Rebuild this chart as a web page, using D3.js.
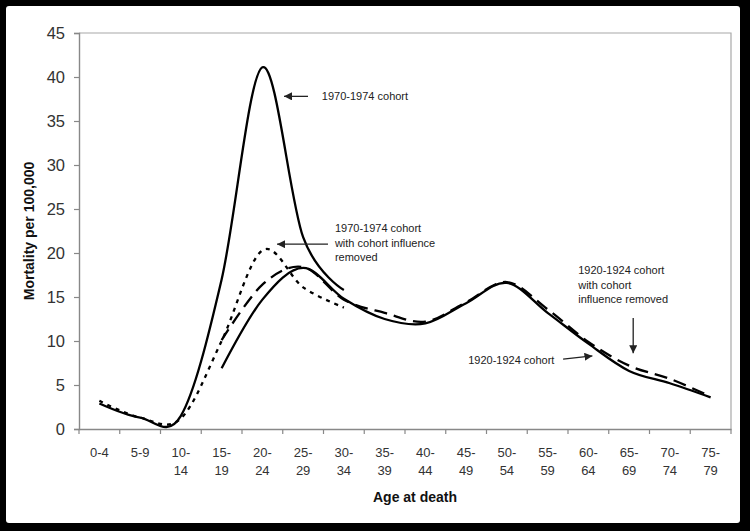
<!DOCTYPE html>
<html>
<head>
<meta charset="utf-8">
<script src="https://cdn.jsdelivr.net/npm/d3@7"></script>
<style>
  body { margin: 0; background: #000; }
  svg { display: block; font-family: "Liberation Sans", Arial, sans-serif; }
</style>
</head>
<body>
<div id="chart"></div>
<script>
/* ── data ─────────────────────────────────────────────── */

const ageGroups = ['0-4','5-9','10-14','15-19','20-24','25-29','30-34','35-39',
                   '40-44','45-49','50-54','55-59','60-64','65-69','70-74','75-79'];

const yTicks = [0, 5, 10, 15, 20, 25, 30, 35, 40, 45];

// null = not observed for that cohort
const cohort1970         = [2.9, 1.3, 1.5, 17.0, 41.1, 21.8, 15.8, null, null, null, null, null, null, null, null, null];
const cohort1970Removed  = [3.2, 1.3, 1.2, 10.0, 20.3, 16.1, 13.8, null, null, null, null, null, null, null, null, null];
const cohort1920         = [null, null, null, 6.9, 14.7, 18.3, 14.8, 12.5, 12.0, 14.3, 16.6, 13.2, 9.7, 6.6, 5.2, 3.6];
const cohort1920Removed  = [null, null, null, 10.1, 16.4, 18.4, 14.7, 13.2, 12.2, 14.4, 16.7, 13.6, 9.9, 7.2, 5.7, 3.7];

/* ── layout ───────────────────────────────────────────── */

const W = 750, H = 531;
const plot = { left: 79, right: 731, top: 33, bottom: 429 };

const svg = d3.select('#chart').append('svg')
  .attr('width', W).attr('height', H);

// black frame around a white card
svg.append('rect').attr('width', W).attr('height', H).attr('fill', '#000');
svg.append('rect')
  .attr('x', 6).attr('y', 6).attr('width', 734).attr('height', 517)
  .attr('rx', 3).attr('fill', '#fff');

const x = d3.scaleBand().domain(ageGroups).range([plot.left, plot.right]).paddingInner(0);
// continuous index scale (category i centred at i + 0.5), used for annotations
const xi = d3.scaleLinear().domain([0, ageGroups.length]).range([plot.left, plot.right]);
const y = d3.scaleLinear().domain([0, 45]).range([plot.bottom, plot.top]);

/* ── plot frame & axes ────────────────────────────────── */

svg.append('path')
  .attr('d', `M${plot.left},${plot.top}H${plot.right}V${plot.bottom}`)
  .attr('fill', 'none').attr('stroke', '#a8a8a8').attr('stroke-width', 1.2);

const yAxis = svg.append('g')
  .attr('transform', `translate(${plot.left},0)`)
  .call(d3.axisLeft(y).tickValues(yTicks).tickSize(5).tickPadding(9));
yAxis.select('.domain').attr('stroke', '#888').attr('stroke-width', 1.4);
yAxis.selectAll('.tick line').attr('stroke', '#888').attr('stroke-width', 1.2);
yAxis.selectAll('.tick text')
  .attr('font-size', 16.5).attr('fill', '#333')
  .attr('font-family', '"Liberation Sans", Arial, sans-serif');

const xAxis = svg.append('g')
  .attr('transform', `translate(0,${plot.bottom})`)
  .call(d3.axisBottom(x).tickSize(0).tickPadding(0).tickFormat(''));
xAxis.select('.domain').attr('stroke', '#888').attr('stroke-width', 1.4);

// tick marks sit on the category boundaries
xAxis.selectAll('line.boundary')
  .data(d3.range(ageGroups.length + 1))
  .join('line')
  .attr('class', 'boundary')
  .attr('x1', d => xi(d)).attr('x2', d => xi(d))
  .attr('y1', 0).attr('y2', 5)
  .attr('stroke', '#888').attr('stroke-width', 1.2);

// labels wrap after the hyphen ("10-" / "14")
xAxis.selectAll('.tick text').remove();
xAxis.selectAll('.tick').each(function(d) {
  const t = d3.select(this).append('text')
    .attr('text-anchor', 'middle')
    .attr('font-size', 13).attr('fill', '#333')
    .attr('font-family', '"Liberation Sans", Arial, sans-serif');
  const cut = d.indexOf('-') + 1;
  const parts = d.length > 3 ? [d.slice(0, cut), d.slice(cut)] : [d];
  parts.forEach((p, i) => {
    t.append('tspan').attr('x', 0).attr('y', 28 + i * 18).text(p);
  });
});

svg.append('text')
  .attr('x', 415).attr('y', 502)
  .attr('text-anchor', 'middle')
  .attr('font-size', 14).attr('font-weight', 'bold').attr('fill', '#111')
  .text('Age at death');

svg.append('text')
  .attr('transform', `translate(34,${(plot.top + plot.bottom) / 2}) rotate(-90)`)
  .attr('text-anchor', 'middle')
  .attr('font-size', 14).attr('font-weight', 'bold').attr('fill', '#111')
  .text('Mortality per 100,000');

/* ── series ───────────────────────────────────────────── */

const line = d3.line()
  .defined(d => d != null)
  .x((d, i) => x(ageGroups[i]) + x.bandwidth() / 2)
  .y(d => y(d))
  .curve(d3.curveCardinal.tension(0));

const series = [
  { values: cohort1920Removed, dash: '13,7' },
  { values: cohort1970Removed, dash: '4,5' },
  { values: cohort1920,        dash: null },
  { values: cohort1970,        dash: null }
];

svg.append('g')
  .selectAll('path')
  .data(series)
  .join('path')
  .attr('d', s => line(s.values))
  .attr('fill', 'none')
  .attr('stroke', '#000')
  .attr('stroke-width', 2.3)
  .attr('stroke-linejoin', 'round')
  .attr('stroke-dasharray', s => s.dash);

/* ── annotations ──────────────────────────────────────── */

svg.append('defs').append('marker')
  .attr('id', 'head')
  .attr('viewBox', '0 0 10 10')
  .attr('refX', 10).attr('refY', 5)
  .attr('markerWidth', 8).attr('markerHeight', 8)
  .attr('markerUnits', 'userSpaceOnUse')
  .attr('orient', 'auto')
  .append('path').attr('d', 'M0,0L10,5L0,10Z').attr('fill', '#222');

// positions in (category index, value) space
const notes = [
  { lines: ['1970-1974 cohort'], tx: 5.96, ty: 37.8, from: [5.62, 37.8], to: [5.03, 37.8] },
  { lines: ['1970-1974 cohort', 'with cohort influence', 'removed'], tx: 6.28, ty: 22.8,
    from: [6.11, 21.0], to: [4.86, 21.0] },
  { lines: ['1920-1924 cohort', 'with cohort', 'influence removed'], tx: 12.25, ty: 18.05,
    from: [13.6, 12.6], to: [13.6, 8.6] },
  { lines: ['1920-1924 cohort'], tx: 9.55, ty: 7.85, from: [11.88, 7.95], to: [12.6, 8.3] }
];

const g = svg.append('g');
notes.forEach(n => {
  const t = g.append('text')
    .attr('font-size', 11).attr('fill', '#222');
  n.lines.forEach((l, i) => {
    t.append('tspan')
      .attr('x', xi(n.tx))
      .attr('y', y(n.ty) + 4 + i * 14.5)
      .text(l);
  });
  g.append('line')
    .attr('x1', xi(n.from[0])).attr('y1', y(n.from[1]))
    .attr('x2', xi(n.to[0])).attr('y2', y(n.to[1]))
    .attr('stroke', '#222').attr('stroke-width', 1.3)
    .attr('marker-end', 'url(#head)');
});
</script>
</body>
</html>
